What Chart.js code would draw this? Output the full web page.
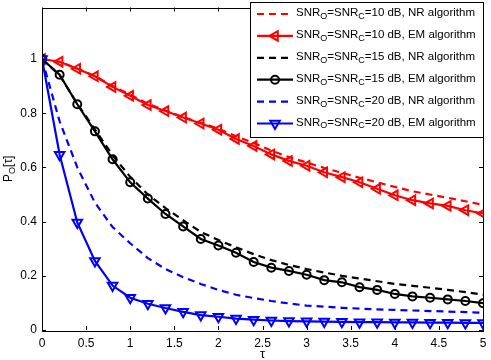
<!DOCTYPE html>
<html lang="EN">
    <head>
        <title>P_O[tau] vs tau</title>
        <meta charset="UTF-8">
        <style>
            body { margin: 0; background: #fff; }
            #pChart { display: block; }
        </style>
    </head>
    <body>
        <canvas id="pChart" width="491" height="360"></canvas>
        <script src="https://cdn.jsdelivr.net/npm/chart.js@4/dist/chart.umd.min.js"></script>
        <script>
            // tau samples (every 0.2)
            let tau = [0, 0.2, 0.4, 0.6, 0.8, 1.0, 1.2, 1.4, 1.6, 1.8, 2.0, 2.2, 2.4,
                       2.6, 2.8, 3.0, 3.2, 3.4, 3.6, 3.8, 4.0, 4.2, 4.4, 4.6, 4.8, 5.0];

            let nr10 = [1, 0.99, 0.965, 0.937, 0.9, 0.868, 0.835, 0.81, 0.786, 0.765, 0.743, 0.715, 0.69,
                        0.662, 0.638, 0.618, 0.598, 0.58, 0.562, 0.545, 0.528, 0.512, 0.5, 0.488, 0.475, 0.462];
            let em10 = [1, 0.99, 0.964, 0.936, 0.897, 0.864, 0.83, 0.808, 0.784, 0.762, 0.739, 0.705, 0.679,
                        0.648, 0.624, 0.606, 0.582, 0.564, 0.545, 0.521, 0.497, 0.479, 0.467, 0.458, 0.442, 0.43];
            let nr15 = [1, 0.94, 0.835, 0.74, 0.645, 0.565, 0.5, 0.45, 0.405, 0.362, 0.332, 0.305, 0.28,
                        0.258, 0.24, 0.225, 0.212, 0.2, 0.19, 0.18, 0.17, 0.163, 0.156, 0.148, 0.14, 0.13];
            let em15 = [1, 0.942, 0.833, 0.733, 0.63, 0.545, 0.485, 0.428, 0.382, 0.336, 0.312, 0.285, 0.251,
                        0.23, 0.218, 0.204, 0.184, 0.176, 0.158, 0.148, 0.133, 0.124, 0.119, 0.113, 0.107, 0.099];
            let nr20 = [1, 0.77, 0.6, 0.47, 0.38, 0.32, 0.265, 0.225, 0.195, 0.17, 0.148, 0.13, 0.118,
                        0.107, 0.098, 0.09, 0.086, 0.082, 0.079, 0.076, 0.074, 0.072, 0.07, 0.068, 0.066, 0.064];
            let em20 = [1, 0.647, 0.397, 0.255, 0.164, 0.119, 0.097, 0.081, 0.067, 0.055, 0.049, 0.042, 0.038,
                        0.035, 0.033, 0.032, 0.031, 0.030, 0.029, 0.029, 0.028, 0.028, 0.027, 0.027, 0.026, 0.026];

            let snrLevels = ['10', '10', '15', '15', '20', '20'];
            let algNames = ['NR', 'EM', 'NR', 'EM', 'NR', 'EM'];

            let xTicks = [0, 0.5, 1, 1.5, 2, 2.5, 3, 3.5, 4, 4.5, 5];
            let yTicks = [0, 0.2, 0.4, 0.6, 0.8, 1];

            function pts(ys) {
                return tau.map(function (t, i) { return { x: t, y: ys[i] }; });
            }

            let styles = [
                { color: '#ff0000', dash: [7, 5], point: false },
                { color: '#ff0000', dash: [], point: 'triangle', rot: 270, r: 5.5 },
                { color: '#000000', dash: [7, 5], point: false },
                { color: '#000000', dash: [], point: 'circle', rot: 0, r: 4 },
                { color: '#0000ff', dash: [7, 5], point: false },
                { color: '#0000ff', dash: [], point: 'triangle', rot: 180, r: 5.5 }
            ];
            let series = [nr10, em10, nr15, em15, nr20, em20];

            let datasets = series.map(function (s, i) {
                let st = styles[i];
                return {
                    label: 'SNR_O=SNR_C=' + snrLevels[i] + ' dB, ' + algNames[i] + ' algorithm',
                    data: pts(s),
                    borderColor: st.color,
                    borderWidth: 2.2,
                    borderDash: st.dash,
                    fill: false,
                    tension: 0,
                    pointStyle: st.point || 'circle',
                    pointRadius: st.point ? st.r : 0,
                    pointRotation: st.rot || 0,
                    pointBorderColor: st.color,
                    pointBackgroundColor: 'rgba(255,255,255,0)',
                    pointBorderWidth: 2,
                    order: 6 - i
                };
            });

            let FONT = '"Liberation Sans", Arial, Helvetica, sans-serif';

            // text with subscripts: parts = [[text, isSub], ...]
            function drawRich(ctx, parts, x, y, size) {
                for (let p of parts) {
                    ctx.font = (p[1] ? Math.round(size * 0.75) : size) + 'px ' + FONT;
                    ctx.fillText(p[0], x, p[1] ? y + size * 0.3 : y);
                    x += ctx.measureText(p[0]).width;
                }
            }

            function drawMarker(ctx, st, x, y) {
                ctx.save();
                ctx.setLineDash([]);
                ctx.lineWidth = 2;
                ctx.strokeStyle = st.color;
                ctx.beginPath();
                if (st.point === 'circle') {
                    ctx.arc(x, y, st.r, 0, Math.PI * 2);
                } else {
                    let rad = st.rot * Math.PI / 180;
                    let r = st.r;
                    for (let k = 0; k < 3; k++) {
                        let a = rad + k * 2 * Math.PI / 3;
                        let px = x + Math.sin(a) * r;
                        let py = y - Math.cos(a) * r;
                        if (k === 0) ctx.moveTo(px, py); else ctx.lineTo(px, py);
                    }
                    ctx.closePath();
                }
                ctx.stroke();
                ctx.restore();
            }

            function fmt(v) { return String(Math.round(v * 10) / 10); }

            let decor = {
                id: 'decor',
                afterDraw: function (chart) {
                    let ctx = chart.ctx;
                    let a = chart.chartArea;
                    let xs = chart.scales.x, ys = chart.scales.y;
                    ctx.save();
                    ctx.strokeStyle = '#000';
                    ctx.lineWidth = 1;
                    ctx.setLineDash([]);
                    // frame
                    ctx.strokeRect(Math.round(a.left) + 0.5, Math.round(a.top) + 0.5,
                        Math.round(a.right - a.left), Math.round(a.bottom - a.top));
                    // inward ticks
                    ctx.beginPath();
                    xTicks.forEach(function (v) {
                        let px = Math.round(xs.getPixelForValue(v)) + 0.5;
                        ctx.moveTo(px, a.bottom); ctx.lineTo(px, a.bottom - 4);
                        ctx.moveTo(px, a.top); ctx.lineTo(px, a.top + 4);
                    });
                    yTicks.forEach(function (v) {
                        let py = Math.round(ys.getPixelForValue(v)) + 0.5;
                        ctx.moveTo(a.left, py); ctx.lineTo(a.left + 4, py);
                        ctx.moveTo(a.right, py); ctx.lineTo(a.right - 4, py);
                    });
                    ctx.stroke();

                    // legend
                    let lx = 250.5, ly = 2.5, lw = 233, lh = 135;
                    ctx.fillStyle = '#fff';
                    ctx.fillRect(lx, ly, lw, lh);
                    ctx.strokeRect(lx, ly, lw, lh);
                    ctx.textBaseline = 'middle';
                    ctx.textAlign = 'left';
                    for (let i = 0; i < 6; i++) {
                        let st = styles[i];
                        let cy = 14 + i * 21.9;
                        ctx.save();
                        ctx.strokeStyle = st.color;
                        ctx.lineWidth = 2.2;
                        ctx.setLineDash(st.dash);
                        ctx.beginPath();
                        ctx.moveTo(257, cy); ctx.lineTo(293, cy);
                        ctx.stroke();
                        ctx.restore();
                        if (st.point) drawMarker(ctx, st, 275, cy);
                        ctx.fillStyle = '#000';
                        drawRich(ctx, [['SNR', false], ['O', true], ['=SNR', false], ['C', true],
                            ['=' + snrLevels[i] + ' dB, ' + algNames[i] + ' algorithm', false]], 296, cy - 1, 11.5);
                    }

                    // axis titles
                    ctx.fillStyle = '#000';
                    ctx.textAlign = 'center';
                    ctx.textBaseline = 'alphabetic';
                    ctx.font = '13px ' + FONT;
                    ctx.fillText('\u03c4', (a.left + a.right) / 2, 358);
                    ctx.textBaseline = 'middle';
                    ctx.save();
                    ctx.translate(9, (a.top + a.bottom) / 2);
                    ctx.rotate(-Math.PI / 2);
                    ctx.textAlign = 'left';
                    ctx.font = '12px ' + FONT;
                    let w1 = ctx.measureText('P').width;
                    ctx.font = '9px ' + FONT;
                    let w2 = ctx.measureText('O').width;
                    ctx.font = '12px ' + FONT;
                    let w3 = ctx.measureText('[\u03c4]').width;
                    drawRich(ctx, [['P', false], ['O', true], ['[\u03c4]', false]], -(w1 + w2 + w3) / 2, 0, 12);
                    ctx.restore();
                    ctx.restore();
                }
            };

            let chartElement = new Chart('pChart', {
                type: 'line',
                data: { datasets: datasets },
                options: {
                    responsive: false,
                    animation: false,
                    devicePixelRatio: 1,
                    layout: { padding: { top: 2, right: 8, left: 0, bottom: 0 } },
                    plugins: { legend: { display: false }, tooltip: { enabled: false } },
                    scales: {
                        x: {
                            type: 'linear', min: 0, max: 5,
                            grid: { display: false, drawTicks: false },
                            border: { display: false },
                            afterBuildTicks: function (s) { s.ticks = xTicks.map(function (v) { return { value: v }; }); },
                            afterFit: function (s) {
                                s.height = 30;
                                s.paddingLeft = 0; s.paddingRight = 0;
                                s.paddingTop = 0; s.paddingBottom = 0;
                            },
                            ticks: { color: '#000', padding: 6, font: { family: FONT, size: 12 }, maxRotation: 0,
                                     callback: fmt }
                        },
                        y: {
                            type: 'linear', min: 0, max: 1.19,
                            grid: { display: false, drawTicks: false },
                            border: { display: false },
                            afterBuildTicks: function (s) { s.ticks = yTicks.map(function (v) { return { value: v }; }); },
                            afterFit: function (s) {
                                s.width = 42;
                                s.paddingLeft = 0; s.paddingRight = 0;
                                s.paddingTop = 0; s.paddingBottom = 0;
                            },
                            ticks: { color: '#000', padding: 5, font: { family: FONT, size: 12 }, callback: fmt }
                        }
                    }
                },
                plugins: [decor]
            });
        </script>
    </body>
</html>
